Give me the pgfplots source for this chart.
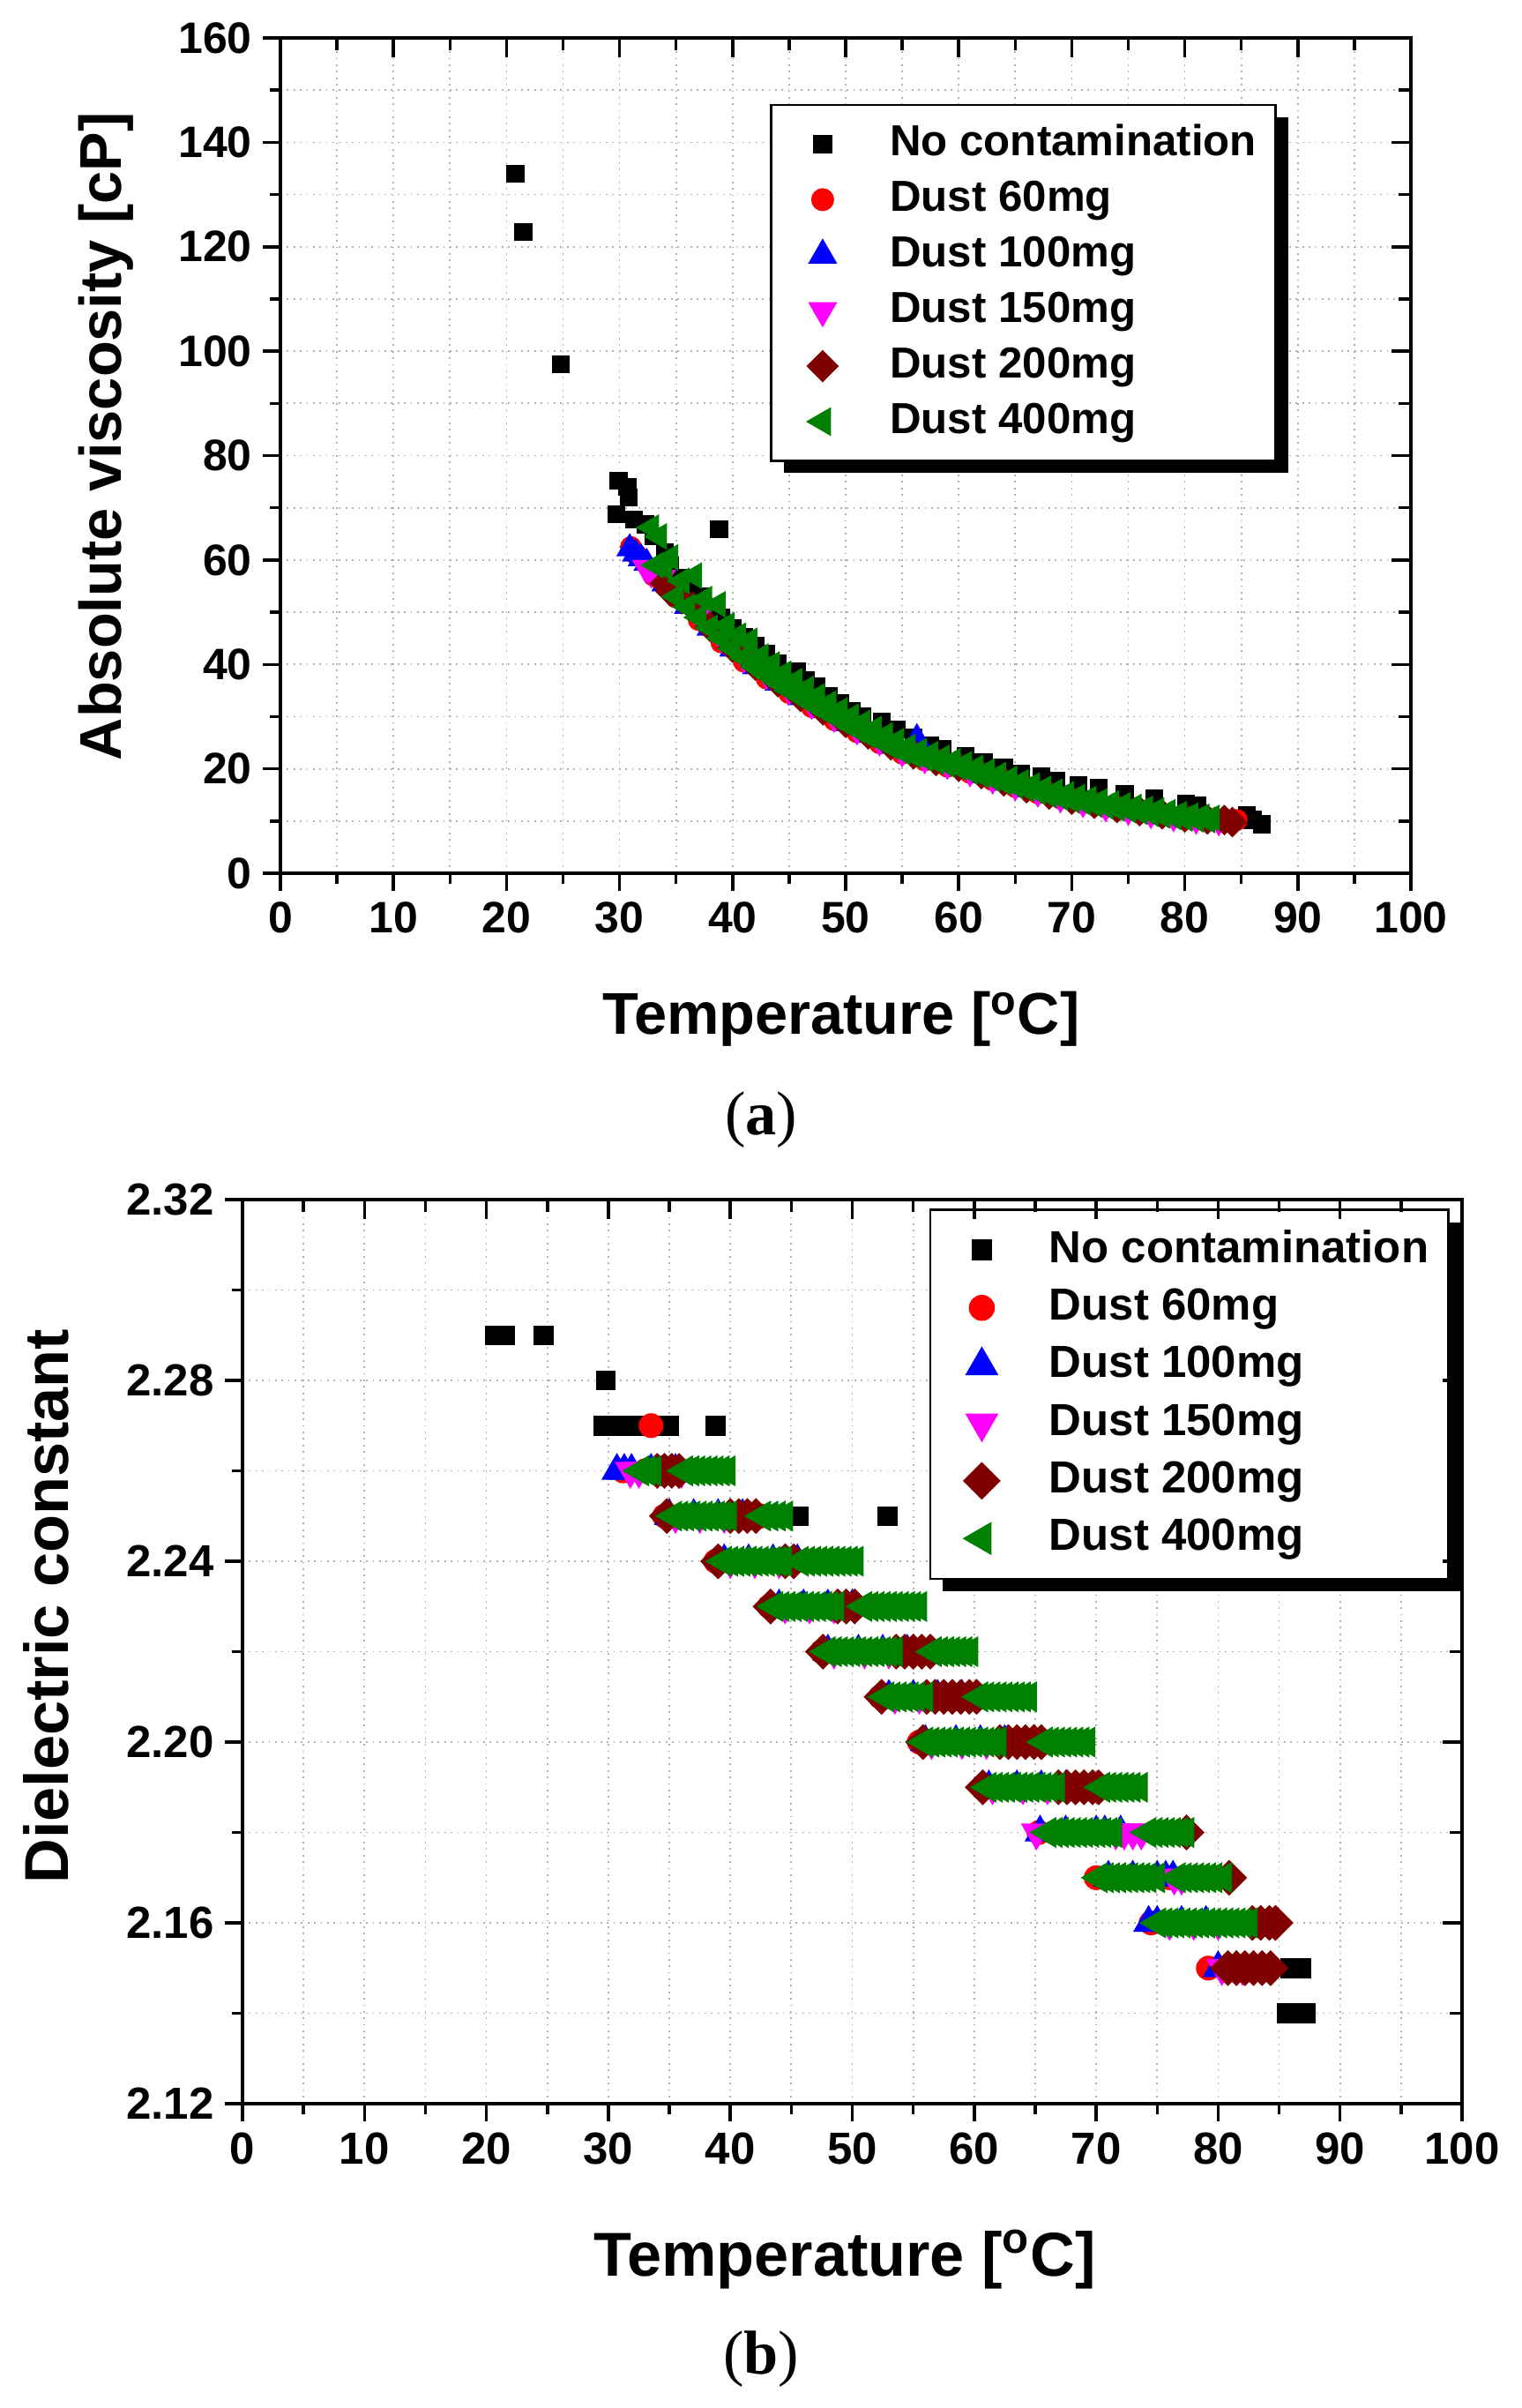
\documentclass[border=0pt]{standalone}
\usepackage{fontspec}
\setmainfont{Liberation Sans}
\newfontfamily\seriffont{Liberation Serif}
\usepackage{pgfplots}
\pgfplotsset{compat=1.18}
\usetikzlibrary{shadows}

\definecolor{dred}{RGB}{128,0,0}
\definecolor{dgreen}{RGB}{0,128,0}
\definecolor{mag}{RGB}{255,0,255}

\pgfplotsset{
  originax/.style={
    scale only axis, anchor=south west,
    axis line style={line width=1pt},
    tick style={black, line width=1pt},
    major tick length=2mm, minor tick length=1.2mm,
    tick align=outside, xtick pos=left, ytick pos=left,
    grid=both,
    major grid style={gray!60, line width=0.5pt, dash pattern=on 0.5pt off 1.6pt},
    minor grid style={gray!60, line width=0.5pt, dash pattern=on 0.5pt off 1.6pt},
    /pgf/number format/assume math mode=true,
    legend cell align=left,
    legend style={anchor=north west, draw=black, line width=0.8pt, fill=white,
      inner xsep=1.5mm, inner ysep=1.3mm, row sep=0pt,
      drop shadow={shadow xshift=1.4mm, shadow yshift=-1.4mm, fill=black, opacity=1},
      nodes={inner xsep=2pt, inner ysep=2.2pt, text height=10.5pt, text depth=3pt}},
  },
  % one mark in the legend, set further in
  legmark/.style={legend image code/.code={
      \path (0cm,0cm) (1.1cm,0cm);
      \draw[##1] plot coordinates {(0.42cm,0cm)};
  }},
  frameax/.style={
    scale only axis, anchor=south west,
    axis line style={line width=1pt},
    tick style={black, line width=1pt},
    major tick length=2.2mm, minor tick length=1.4mm,
    tick align=inside, xtick pos=right, ytick pos=right,
    xticklabels={}, yticklabels={},
  },
}

\begin{document}
\begin{tikzpicture}
\useasboundingbox (0,0) rectangle (172.6mm,-273mm);

% ---------------- (a) viscosity ----------------
\begin{axis}[originax,
  at={(31.8mm,-99mm)}, width=128.2mm, height=94.7mm,
  xmin=0, xmax=100, ymin=0, ymax=160,
  xtick={0,10,...,100}, ytick={0,20,...,160},
  minor x tick num=1, minor y tick num=1,
  ticklabel style={font=\bfseries\fontsize{14.2}{16}\selectfont},
  xlabel={Temperature [\textsuperscript{o}C]},
  ylabel={Absolute viscosity [cP]},
  label style={font=\bfseries\fontsize{19}{21}\selectfont},
  xlabel style={at={(axis description cs:0.496,-0.174)}, anchor=center},
  ylabel style={at={(axis description cs:-0.154,0.523)}, anchor=center},
  legend style={at={(axis cs:43.3,147.4)}, font=\bfseries\fontsize{14}{16}\selectfont},
]
\addplot[only marks, legmark, mark=square*, mark size=2.7pt, black] coordinates {
(20.8,134) (21.5,122.8) (24.8,97.5) (29.9,75.2) (30.7,74) (30.8,72) (29.7,68.8)
(31.3,67.8) (32.3,66.8) (33,64.5) (34,61.5) (34.5,59) (35.5,56.5) (36.5,55)
(37.2,53) (38.8,65.9) (38,51) (39,49) (40,47) (41,45.2) (42,43.5) (43,42)
(44,40.2) (45.7,38.6) (46.5,37) (47.4,35.8) (48.5,34) (49.5,32.5) (50.5,31)
(51.5,30) (53.2,29.1) (54.5,27.5) (56,26) (57.5,24.5) (58.6,23.8) (60.6,22.4)
(62.2,21.3) (64,20.2) (65.5,19.1) (67.3,18.6) (68.6,17.7) (70.6,16.9)
(72.4,16.4) (74.7,15.2) (77.3,14.4) (80.1,13.3) (81.1,13) (85.5,11.1)
(86,10.2) (86.8,9.4)
};
\addlegendentry{No contamination}
\addplot[only marks, legmark, mark=*, mark size=3.3pt, red] coordinates {
(31,62.5) (31.5,61) (33,57) (35,52.8) (37,48.5) (39,44.2) (41,40.5) (43,37.3)
(45,34.5) (47,31.8) (49,29.3) (51,27) (53,24.9) (55,22.9) (57,21.6) (59,20.4)
(61,19.2) (63,17.8) (65,16.5) (67,15.3) (69,14.3) (71,13.4) (73,12.6) (75,12)
(77,11.3) (79,10.7) (81,10.2) (82.5,10.2) (83.3,10.1) (84,9.9) (84.6,10.2)
};
\addlegendentry{Dust 60mg}
\addplot[only marks, legmark, mark=triangle*, mark size=4.6pt, blue] coordinates {
(30.9,62.2) (31.4,61.2) (31.9,60.3) (32.4,59.4) (34,55.5) (36,51.2) (38,47)
(40,43) (42,39.6) (44,36.5) (46,33.7) (48,31.2) (50,28.7) (52,26.5) (54,24.4)
(56,23.5) (56.3,25.8) (58,21.4) (60,20.2) (62,18.7) (64,17.3) (66,16.1)
(68,15) (70,14) (72,13.2) (74,12.4) (76,11.8) (78,11.2) (80,10.6) (82,10.2)
};
\addlegendentry{Dust 100mg}
\addplot[only marks, legmark, mark=triangle*, mark size=4.6pt, mark options={rotate=180}, mag] coordinates {
(32.3,58.5) (32.8,57.5) (33.3,57) (33.8,56.6) (35,53.5) (37,49.2) (39,45)
(41,41.2) (43,38) (45,35) (47,32.3) (49,29.8) (51,27.4) (53,25.3) (55,23.2)
(57,21.9) (59,20.8) (61,19.4) (63,18) (65,16.7) (67,15.5) (69,14.4) (71,13.5)
(73,12.7) (75,12) (77,11.4) (79,10.8) (81,10.3) (83,10)
};
\addlegendentry{Dust 150mg}
\addplot[only marks, legmark, mark=square*, mark size=3.3pt, mark options={rotate=45}, dred] coordinates {
(34,55.5) (34.5,54) (35,53.5) (35.5,52.5) (36.5,51) (38,47.2) (40,43.2)
(42,39.8) (44,36.6) (46,33.8) (48,31.2) (50,28.8) (52,26.6) (54,24.5)
(56,22.8) (58,21.5) (60,20.4) (62,19) (64,17.6) (66,16.3) (68,15.1) (70,14.1)
(72,13.3) (74,12.5) (76,11.9) (78,11.3) (80,10.7) (82,10.3) (83.5,10.2) (84.2,9.8)
};
\addlegendentry{Dust 200mg}
\addplot[only marks, legmark, mark=triangle*, mark size=4.6pt, mark options={rotate=90}, dgreen] coordinates {
(32.8,66.2) (33.5,64.5) (33.2,59) (34,58.5) (34.5,60.5) (35,53) (35.5,56)
(36,51) (36.6,57) (37,49) (37.5,52.5) (38,47) (38.7,51.5) (39,45) (39.5,47.5)
(40,43) (40.5,45.5) (41,41.3) (41.5,44.5) (42,39.5) (42.5,41.5) (43,38)
(43.5,40) (44,36.5) (44.5,38.2) (45,35) (45.5,36.8) (46,33.8) (46.5,35.3)
(47,32.4) (47.5,33.9) (48,31.2) (48.5,32.5) (49,29.9) (49.5,31.2) (50,28.7)
(50.5,30) (51,27.5) (51.5,28.8) (52,26.4) (52.5,27.6) (53,25.4) (53.5,26.4)
(54,24.3) (54.5,25.3) (55,23.3) (55.5,24.2) (56,22.6) (56.5,23.4) (57,22)
(57.5,22.8) (58,21.4) (58.5,22.1) (59,20.8) (59.5,21.5) (60,20.3) (60.5,20.9)
(61,19.5) (61.5,20.2) (62,18.8) (62.5,19.5) (63,18.1) (63.5,18.8) (64,17.4)
(64.5,18.1) (65,16.8) (65.5,17.4) (66,16.2) (66.5,16.8) (67,15.6) (67.5,16.2)
(68,15) (68.5,15.6) (69,14.5) (69.5,15.1) (70,14) (70.5,14.6) (71,13.6)
(71.5,14.2) (72,13.2) (72.5,13.8) (73,12.8) (73.5,13.4) (74,12.4) (74.5,13)
(75,12.1) (75.5,12.7) (76,11.8) (76.5,12.3) (77,11.4) (77.5,12) (78,11.1)
(78.5,11.7) (79,10.8) (79.5,11.3) (80,10.5) (80.5,11) (81,10.3) (81.5,10.8)
(82,10.2) (82.4,10.6)
};
\addlegendentry{Dust 400mg}
\end{axis}
\begin{axis}[frameax,
  at={(31.8mm,-99mm)}, width=128.2mm, height=94.7mm,
  xmin=0, xmax=100, ymin=0, ymax=160,
  xtick={0,10,...,100}, ytick={0,20,...,160},
  minor x tick num=1, minor y tick num=1]
\end{axis}
\node[font=\seriffont\fontsize{20}{22}\selectfont] at (86.3mm,-127mm) {(\textbf{a})};

% ---------------- (b) dielectric constant ----------------
\begin{axis}[originax,
  at={(27.5mm,-238.5mm)}, width=138.3mm, height=102.5mm,
  xmin=0, xmax=100, ymin=2.12, ymax=2.32,
  xtick={0,10,...,100},
  ytick={2.12,2.16,2.20,2.24,2.28,2.32},
  minor ytick={2.14,2.18,2.22,2.26,2.30},
  minor x tick num=1,
  yticklabel style={/pgf/number format/.cd, fixed, fixed zerofill, precision=2},
  ticklabel style={font=\bfseries\fontsize{14.5}{16}\selectfont},
  xlabel={Temperature [\textsuperscript{o}C]},
  ylabel={Dielectric constant},
  label style={font=\bfseries\fontsize{20}{23}\selectfont},
  xlabel style={at={(axis description cs:0.494,-0.172)}, anchor=center},
  ylabel style={at={(axis description cs:-0.161,0.55)}, anchor=center},
  legend style={at={(axis cs:56.3,2.318)}, font=\bfseries\fontsize{14.5}{16}\selectfont,
    nodes={text height=11pt, text depth=3.2pt}},
]
\addplot[only marks, legmark, mark=square*, mark size=3pt, black] coordinates {
(20.7,2.29) (21.5,2.29) (24.7,2.29) (29.8,2.28)
(29.6,2.27) (30.4,2.27) (31.2,2.27) (32,2.27) (32.8,2.27) (34.2,2.27) (35,2.27) (38.8,2.27)
(44.2,2.25) (45.6,2.25) (52.9,2.25)
(85.9,2.15) (86.8,2.15) (85.6,2.14) (87.2,2.14)
};
\addlegendentry{No contamination}
\addplot[only marks, legmark, mark=*, mark size=3.8pt, red] coordinates {
(33.5,2.27)
(31.2,2.26) (33,2.26) (35,2.26) (37,2.26)
(34.6,2.25) (36.5,2.25) (38.5,2.25) (40.5,2.25) (42.5,2.25)
(38.8,2.24) (41,2.24) (43,2.24) (45,2.24) (47,2.24)
(43.2,2.23) (45.5,2.23) (47.5,2.23) (49.5,2.23) (51.5,2.23)
(47.5,2.22) (50,2.22) (52,2.22) (54,2.22) (56,2.22)
(52.3,2.21) (54.5,2.21) (56.5,2.21) (58.5,2.21) (60.5,2.21)
(55.5,2.20) (58,2.20) (60,2.20) (62,2.20) (64,2.20)
(60.8,2.19) (63,2.19) (65,2.19) (67,2.19) (69,2.19)
(65.3,2.18) (67.5,2.18) (69.5,2.18) (71.5,2.18)
(70,2.17) (72,2.17) (74,2.17) (76,2.17)
(74.5,2.16) (77,2.16) (79,2.16) (81,2.16)
(79.2,2.15) (81,2.15) (82.5,2.15)
};
\addlegendentry{Dust 60mg}
\addplot[only marks, legmark, mark=triangle*, mark size=5.4pt, blue] coordinates {
(30.7,2.26) (31.3,2.26) (31.9,2.26) (33.5,2.26) (35.5,2.26)
(35,2.25) (37,2.25) (39,2.25) (41,2.25)
(39.5,2.24) (41.5,2.24) (43.5,2.24) (45.5,2.24)
(44,2.23) (46,2.23) (48,2.23) (50,2.23)
(48,2.22) (50.5,2.22) (52.5,2.22) (54.5,2.22)
(53,2.21) (55,2.21) (57,2.21) (59,2.21)
(56,2.20) (58.5,2.20) (60.5,2.20) (62.5,2.20)
(61.2,2.19) (63.5,2.19) (65.5,2.19) (67.5,2.19)
(65.4,2.18) (67.5,2.18) (70,2.18) (70.7,2.18) (72,2.18)
(71,2.17) (73,2.17) (75,2.17) (75.7,2.17) (76.3,2.17)
(74.3,2.16) (75,2.16) (77,2.16) (79,2.16)
(80,2.15) (81.5,2.15)
};
\addlegendentry{Dust 100mg}
\addplot[only marks, legmark, mark=triangle*, mark size=5.4pt, mark options={rotate=180}, mag] coordinates {
(31.8,2.26) (32.5,2.26) (34,2.26) (36,2.26)
(35.5,2.25) (37.5,2.25) (39.5,2.25)
(40,2.24) (42,2.24) (44,2.24)
(44.5,2.23) (46.5,2.23) (48.5,2.23)
(48.5,2.22) (51,2.22) (53,2.22)
(53.5,2.21) (55.5,2.21) (57.5,2.21)
(56.5,2.20) (59,2.20) (61,2.20)
(61.5,2.19) (64,2.19) (66,2.19)
(65.1,2.18) (71.6,2.18) (72.3,2.18) (73,2.18) (73.7,2.18)
(76.4,2.17) (77,2.17)
(76,2.16) (78,2.16) (80,2.16)
(80.3,2.15) (82,2.15)
};
\addlegendentry{Dust 150mg}
\addplot[only marks, legmark, mark=square*, mark size=3.9pt, mark options={rotate=45}, dred] coordinates {
(34,2.26) (34.6,2.26) (35.2,2.26) (35.8,2.26)
(34.8,2.25) (40,2.25) (40.7,2.25) (41.4,2.25) (42.1,2.25)
(39,2.24) (44.5,2.24) (45.2,2.24)
(43.3,2.23) (48.8,2.23) (49.5,2.23) (50.2,2.23)
(47.6,2.22) (53.6,2.22) (54.3,2.22) (55,2.22) (55.7,2.22) (56.4,2.22)
(52.4,2.21) (56.1,2.21) (56.8,2.21) (57.5,2.21) (58.2,2.21) (58.9,2.21) (59.6,2.21) (60.2,2.21)
(55.8,2.20) (62.1,2.20) (62.8,2.20) (63.5,2.20) (64.2,2.20) (64.9,2.20) (65.5,2.20)
(60.7,2.19) (66.9,2.19) (67.6,2.19) (68.3,2.19) (69,2.19) (69.7,2.19) (70.2,2.19)
(77.4,2.18)
(80.9,2.17)
(82.8,2.16) (83.5,2.16) (84.2,2.16) (84.7,2.16)
(80.8,2.15) (81.5,2.15) (82.2,2.15) (82.9,2.15) (83.6,2.15) (84.3,2.15)
};
\addlegendentry{Dust 200mg}
\addplot[only marks, legmark, mark=triangle*, mark size=5.4pt, mark options={rotate=90}, dgreen] coordinates {
(32.6,2.26) (33.1,2.26) (33.6,2.26) (36.2,2.26) (36.7,2.26) (37.2,2.26) (37.7,2.26)
(38.2,2.26) (38.7,2.26) (39.2,2.26) (39.7,2.26)
(35.3,2.25) (35.8,2.25) (36.3,2.25) (36.8,2.25) (37.3,2.25) (37.8,2.25) (38.3,2.25)
(38.8,2.25) (39.3,2.25) (39.8,2.25) (42.6,2.25) (43.2,2.25) (43.8,2.25) (44.4,2.25)
(39.4,2.24) (39.9,2.24) (40.4,2.24) (40.9,2.24) (41.4,2.24) (41.9,2.24) (42.4,2.24)
(42.9,2.24) (43.4,2.24) (43.9,2.24) (44.3,2.24) (45.7,2.24) (46.2,2.24) (46.7,2.24)
(47.2,2.24) (47.7,2.24) (48.2,2.24) (48.7,2.24) (49.2,2.24) (49.7,2.24) (50.2,2.24)
(43.6,2.23) (44.1,2.23) (44.6,2.23) (45.1,2.23) (45.6,2.23) (46.1,2.23) (46.6,2.23)
(47.1,2.23) (47.6,2.23) (48.1,2.23) (48.6,2.23) (50.9,2.23) (51.4,2.23) (51.9,2.23)
(52.4,2.23) (52.9,2.23) (53.4,2.23) (53.9,2.23) (54.4,2.23) (54.9,2.23) (55.4,2.23)
(47.9,2.22) (48.4,2.22) (48.9,2.22) (49.4,2.22) (49.9,2.22) (50.4,2.22) (50.9,2.22)
(51.4,2.22) (51.9,2.22) (52.4,2.22) (52.9,2.22) (53.4,2.22) (56.6,2.22) (57.1,2.22)
(57.6,2.22) (58.1,2.22) (58.6,2.22) (59.1,2.22) (59.6,2.22)
(52.7,2.21) (53.2,2.21) (53.7,2.21) (54.2,2.21) (54.7,2.21) (55.2,2.21) (55.9,2.21)
(60.4,2.21) (60.9,2.21) (61.4,2.21) (61.9,2.21) (62.4,2.21) (62.9,2.21) (63.4,2.21)
(63.9,2.21) (64.4,2.21)
(55.9,2.20) (56.4,2.20) (56.9,2.20) (57.4,2.20) (57.9,2.20) (58.4,2.20) (58.9,2.20)
(59.4,2.20) (59.9,2.20) (60.4,2.20) (60.9,2.20) (61.4,2.20) (61.9,2.20) (65.7,2.20)
(66.2,2.20) (66.7,2.20) (67.2,2.20) (67.7,2.20) (68.2,2.20) (68.7,2.20) (69.2,2.20)
(61.1,2.19) (61.6,2.19) (62.1,2.19) (62.6,2.19) (63.1,2.19) (63.6,2.19) (64.1,2.19)
(64.6,2.19) (65.1,2.19) (65.6,2.19) (66.1,2.19) (66.7,2.19) (70.4,2.19) (70.9,2.19)
(71.4,2.19) (71.9,2.19) (72.4,2.19) (72.9,2.19) (73.5,2.19)
(66,2.18) (66.5,2.18) (67,2.18) (67.5,2.18) (68,2.18) (68.5,2.18) (69,2.18)
(69.5,2.18) (70,2.18) (70.5,2.18) (71,2.18) (71.4,2.18) (74.2,2.18) (74.7,2.18)
(75.2,2.18) (75.7,2.18) (76.2,2.18) (76.8,2.18) (77.3,2.18)
(70.2,2.17) (70.7,2.17) (71.2,2.17) (71.7,2.17) (72.2,2.17) (72.7,2.17) (73.2,2.17)
(73.7,2.17) (74.2,2.17) (74.9,2.17) (76.6,2.17) (77.1,2.17) (77.6,2.17) (78.1,2.17)
(78.6,2.17) (79.1,2.17) (79.6,2.17) (80.4,2.17)
(75,2.16) (75.5,2.16) (76,2.16) (76.5,2.16) (77,2.16) (77.5,2.16) (78,2.16)
(78.5,2.16) (79,2.16) (79.5,2.16) (80,2.16) (80.5,2.16) (81,2.16) (81.5,2.16)
(82,2.16) (82.5,2.16)
};
\addlegendentry{Dust 400mg}
\end{axis}
\begin{axis}[frameax,
  at={(27.5mm,-238.5mm)}, width=138.3mm, height=102.5mm,
  xmin=0, xmax=100, ymin=2.12, ymax=2.32,
  xtick={0,10,...,100},
  ytick={2.12,2.16,2.20,2.24,2.28,2.32},
  minor ytick={2.14,2.18,2.22,2.26,2.30},
  minor x tick num=1]
\end{axis}
\node[font=\seriffont\fontsize{20}{22}\selectfont] at (86.3mm,-267.5mm) {(\textbf{b})};
\end{tikzpicture}
\end{document}
